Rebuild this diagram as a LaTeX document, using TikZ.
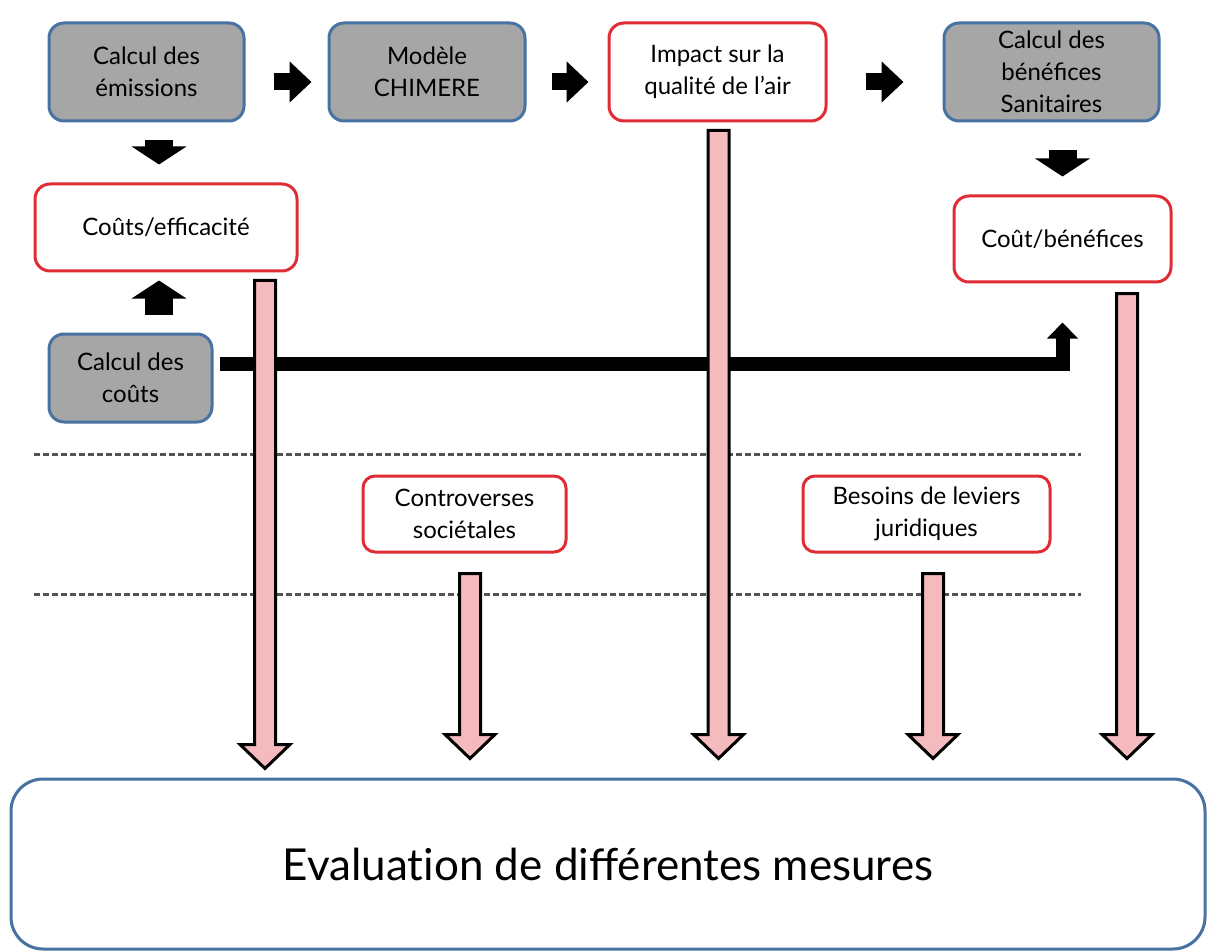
\documentclass[tikz,border=0pt]{standalone}
\usepackage{fontspec}
\setmainfont{Lato}
\usetikzlibrary{positioning, calc, arrows.meta}

\definecolor{boxgray}{RGB}{166,166,166}
\definecolor{boxblue}{RGB}{72,114,162}
\definecolor{boxred}{RGB}{224,44,52}
\definecolor{barpink}{RGB}{244,186,190}
\definecolor{sepgray}{RGB}{85,85,85}

\tikzset{
	calcbox/.style={draw=boxblue, fill=boxgray, line width=3pt, rounded corners=15pt,
		align=center, inner sep=0pt, font=\fontsize{24}{32}\selectfont},
	resbox/.style={calcbox, draw=boxred, fill=white},
	evalbox/.style={draw=boxblue, line width=3pt, rounded corners=32pt, inner sep=0pt,
		font=\fontsize{44}{52}\selectfont},
	blkright/.style={line width=17pt, -{Triangle[length=22pt, width=40pt]}},
	blkvert/.style={line width=28pt, -{Triangle[length=18pt, width=54pt]}},
	blkline/.style={line width=14pt, -{Triangle[length=16pt, width=30pt]}},
	pinkarrow/.style={draw=black, fill=barpink, line width=3pt},
	sepline/.style={draw=sepgray, line width=3pt, dash pattern=on 6pt off 3pt}
}

% pink block arrow from #1 straight down to its tip #2
\newcommand{\pinkdown}[2]{%
	\draw[pinkarrow] ($(#1)+(-10.5,0)$) -- ($(#2)+(-10.5,-24)$) -- ($(#2)+(-25,-24)$) -- (#2)
		-- ($(#2)+(25,-24)$) -- ($(#2)+(10.5,-24)$) -- ($(#1)+(10.5,0)$) -- cycle;}

\begin{document}
\begin{tikzpicture}[x=1pt, y=-1pt]
		\useasboundingbox (0,0) rectangle (1208,952);
		
		% top chain
		\node[calcbox, minimum width=195pt, minimum height=98pt] (emis) at (146.5,72) {Calcul des\\émissions};
		\node[calcbox, minimum width=196pt, minimum height=98pt] (chim) at (427,72) {Modèle\\CHIMERE};
		\node[resbox, minimum width=217pt, minimum height=98pt] (impact) at (717.5,72) {Impact sur la\\qualité de l’air};
		\node[calcbox, minimum width=215pt, minimum height=98pt] (sanit) at (1051.5,72) {Calcul des\\bénéfices\\Sanitaires};
		
		% second level
		\node[resbox, minimum width=262pt, minimum height=87pt] (couteff) at (166,227.5) {Coûts/efficacité};
		\node[resbox, minimum width=217pt, minimum height=86pt] (coutben) at (1062.5,239) {Coût/bénéfices};
		\node[calcbox, minimum width=163pt, minimum height=88pt] (couts) at (130.5,378) {Calcul des\\coûts};
		
		% between the dashed lines
		\node[resbox, minimum width=203pt, minimum height=76pt, rounded corners=12pt] (contro) at (464.5,514) {Controverses\\sociétales};
		\node[resbox, minimum width=247pt, minimum height=76pt, rounded corners=12pt] (besoins) at (926.5,514) {Besoins de leviers\\juridiques};
		
		\node[evalbox, minimum width=1194pt, minimum height=170pt] (eval) at (608,864) {Evaluat\kern0pt ion de différentes mesures};
		
		\draw[sepline] (34,454) -- (1081,454);
		\draw[sepline] (34,594) -- (1081,594);
		
		% black arrows
		\draw[blkright, shorten <=28pt, shorten >=16pt] ([yshift=-10pt]emis.east) -- ([yshift=-10pt]chim.west);
		\draw[blkright, shorten <=25pt, shorten >=19pt] ([yshift=-10pt]chim.east) -- ([yshift=-10pt]impact.west);
		\draw[blkright, shorten <=38pt, shorten >=39pt] ([yshift=-10pt]impact.east) -- ([yshift=-10pt]sanit.west);
		\draw[blkvert, shorten <=18pt, shorten >=18pt] ([xshift=12.5pt]emis.south) -- ([xshift=-7pt]couteff.north);
		\draw[blkvert, shorten <=18pt, shorten >=8pt] ([xshift=28.5pt]couts.north) -- ([xshift=-7pt]couteff.south);
		\draw[blkvert, shorten <=28pt, shorten >=18pt] ([xshift=11pt]sanit.south) -- (coutben.north);
		\draw[blkline, shorten <=6pt, shorten >=39pt] ([yshift=14pt]couts.east) -| (coutben.south);
		
		% pink arrows into the evaluation
		\coordinate (p1) at ([xshift=99pt, yshift=-8pt]couteff.south);
		\coordinate (p2) at ([xshift=5.5pt, yshift=-20pt]contro.south);
		\coordinate (p3) at ([xshift=1pt, yshift=-8pt]impact.south);
		\coordinate (p4) at ([xshift=6.5pt, yshift=-20pt]besoins.south);
		\coordinate (p5) at ([xshift=64.5pt, yshift=-10pt]coutben.south);
		\coordinate (q1) at ($(p1 |- eval.north)+(0,-9)$);
		\foreach \i in {2,...,5}
			\coordinate (q\i) at ($(p\i |- eval.north)+(0,-19)$);
		\foreach \i in {1,...,5}
			\pinkdown{p\i}{q\i};
	\end{tikzpicture}
\end{document}
